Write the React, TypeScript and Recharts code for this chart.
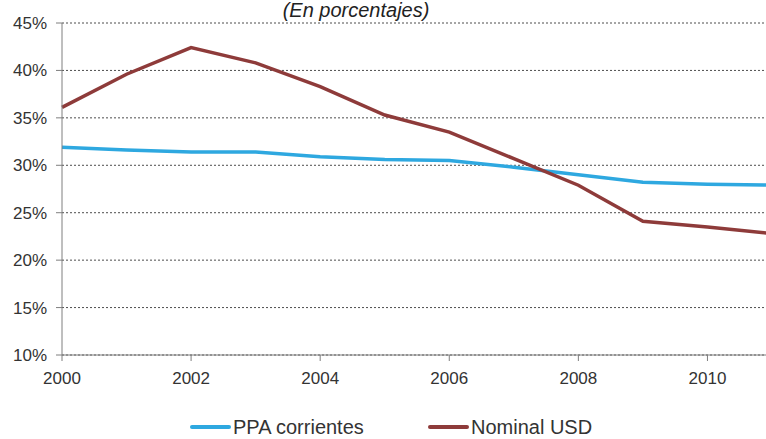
import React from 'react';
import { LineChart, Line, XAxis, YAxis, CartesianGrid, Legend } from 'recharts';

const years = [2000, 2001, 2002, 2003, 2004, 2005, 2006, 2007, 2008, 2009, 2010, 2011];
const ppaCorrientes = [31.9, 31.6, 31.4, 31.4, 30.9, 30.6, 30.5, 29.8, 29.0, 28.2, 28.0, 27.9];
const nominalUsd = [36.1, 39.6, 42.4, 40.8, 38.3, 35.3, 33.5, 30.7, 27.9, 24.1, 23.5, 22.8];
const xTicks = [2000, 2002, 2004, 2006, 2008, 2010];
const yTicks = [10, 15, 20, 25, 30, 35, 40, 45];

const COLORS = {
  ppa: '#2EA8E0',
  nominal: '#8E3B3A',
  text: '#333333',
  axis: '#7F7F7F',
  grid: '#4D4D4D'
};

const FONT = '"Liberation Sans", Arial, sans-serif';

const chartData = years.map((year, i) => ({
  year,
  ppa: ppaCorrientes[i],
  nominal: nominalUsd[i]
}));

function ChartLegend() {
  const item = (color: string, label: string, left: number) => (
    <div style={{ position: 'absolute', left, top: 1, display: 'flex', alignItems: 'center', whiteSpace: 'nowrap' }}>
      <span style={{ display: 'inline-block', width: 41, height: 4, background: color, borderRadius: 2, marginRight: 2 }} />
      <span style={{ fontSize: 20, lineHeight: '22px', color: COLORS.text, fontFamily: FONT }}>{label}</span>
    </div>
  );
  return (
    <div style={{ position: 'relative', height: 24, width: 766 }}>
      {item(COLORS.ppa, 'PPA corrientes', 190)}
      {item(COLORS.nominal, 'Nominal USD', 428)}
    </div>
  );
}

export default function App() {
  return (
    <div style={{ position: 'fixed', left: 0, top: 0, width: 766, height: 439, overflow: 'hidden', background: '#fff', fontFamily: FONT }}>
      <div
        style={{
          position: 'absolute',
          left: 0,
          top: 0,
          width: 712,
          textAlign: 'center',
          fontSize: 20,
          lineHeight: '21px',
          fontStyle: 'italic',
          color: '#222',
          zIndex: 2
        }}
      >
        (En porcentajes)
      </div>
      <LineChart width={790} height={439} data={chartData} margin={{ top: 23, right: 18, left: 0, bottom: 0 }}>
        <CartesianGrid vertical={false} stroke={COLORS.grid} strokeDasharray="2 2" />
        <XAxis
          dataKey="year"
          type="number"
          domain={[2000, 2011]}
          ticks={xTicks}
          height={60}
          stroke={COLORS.axis}
          tickSize={6}
          tickMargin={11}
          tick={{ fill: COLORS.text, fontSize: 17, fontFamily: FONT }}
        />
        <YAxis
          domain={[10, 45]}
          ticks={yTicks}
          width={62}
          stroke={COLORS.axis}
          tickSize={6}
          tickMargin={9}
          tickFormatter={(v: number) => `${v}%`}
          tick={{ fill: COLORS.text, fontSize: 17, fontFamily: FONT }}
        />
        <Legend verticalAlign="bottom" content={() => <ChartLegend />} wrapperStyle={{ left: 0, width: 766 }} />
        <Line type="linear" dataKey="ppa" name="PPA corrientes" stroke={COLORS.ppa} strokeWidth={3.5} dot={false} isAnimationActive={false} />
        <Line type="linear" dataKey="nominal" name="Nominal USD" stroke={COLORS.nominal} strokeWidth={3.5} dot={false} isAnimationActive={false} />
      </LineChart>
    </div>
  );
}
